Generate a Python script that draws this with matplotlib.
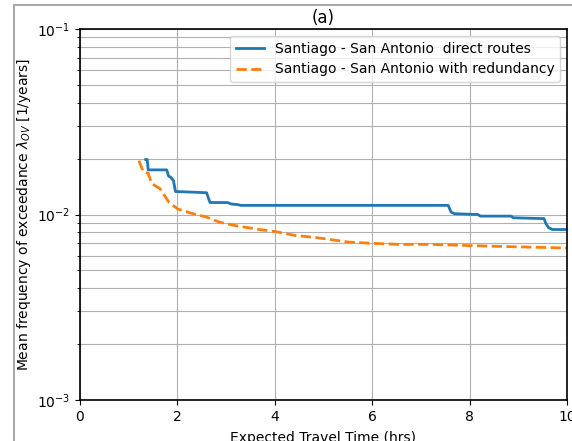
import numpy as np
import matplotlib.pyplot as plt
from matplotlib.lines import Line2D

# direct routes (step curve)
t_direct = [1.35, 1.38, 1.40, 1.78, 1.82, 1.86, 1.92, 1.96, 2.30, 2.60, 2.63, 2.67,
            3.03, 3.10, 3.24, 3.30, 7.56, 7.62, 7.69, 8.17, 8.22, 8.85, 8.90, 9.53,
            9.56, 9.62, 9.70, 10.0]
lam_direct = [0.0198, 0.0198, 0.0174, 0.0174, 0.0161, 0.0159, 0.0152, 0.0133, 0.0132, 0.0131,
              0.0124, 0.0116, 0.0116, 0.0114, 0.0113, 0.0112, 0.0112, 0.0103, 0.0101,
              0.0100, 0.0098, 0.0098, 0.0096, 0.0095, 0.0090, 0.0085, 0.0083, 0.0083]

# with redundancy
t_red = [1.21, 1.30, 1.40, 1.47, 1.64, 1.83, 2.01, 2.32, 2.59, 2.86, 3.20, 3.68, 4.00,
         4.43, 4.87, 5.18, 5.52, 5.97, 6.54, 7.22, 7.97, 8.92, 10.0]
lam_red = [0.0195, 0.0170, 0.0167, 0.0147, 0.0138, 0.0116, 0.0107, 0.0101, 0.0097, 0.0091,
           0.0087, 0.0083, 0.0081, 0.0077, 0.0075, 0.0073, 0.0071, 0.0070, 0.0069,
           0.0069, 0.0068, 0.0067, 0.0066]

plt.rcParams['font.size'] = 10

fig = plt.figure(figsize=(5.72, 4.41), dpi=100)
ax = fig.add_axes([80/572, 1-400/441, 487/572, 371/441])

ax.plot(t_direct, lam_direct, color='#1f77b4', lw=2,
        label='Santiago - San Antonio  direct routes')
ax.plot(t_red, lam_red, color='#ff7f0e', lw=2, ls='--',
        label='Santiago - San Antonio with redundancy')

ax.set_yscale('log')
ax.set_xlim(0, 10)
ax.set_ylim(1e-3, 1e-1)
ax.grid(True, which='major', color='#b0b0b0', lw=0.8)
ax.grid(True, which='minor', axis='y', color='#b0b0b0', lw=0.8)
for s in ax.spines.values():
    s.set_linewidth(1.2)

ax.set_title('(a)', pad=4)
ax.set_xlabel('Expected Travel Time (hrs)', labelpad=5)
ax.set_ylabel(r'Mean frequency of exceedance $\lambda_{OV}$ [1/years]', labelpad=3)
ax.legend(loc='upper right')

# screenshot border
fig.add_artist(Line2D([13.5/572, 13.5/572], [0, 1-5/441], color='#aaaaaa', lw=1.5,
                      transform=fig.transFigure))
fig.add_artist(Line2D([13.5/572, 1], [1-5/441, 1-5/441], color='#aaaaaa', lw=1.5,
                      transform=fig.transFigure))

fig.savefig('out.png', dpi=100)
